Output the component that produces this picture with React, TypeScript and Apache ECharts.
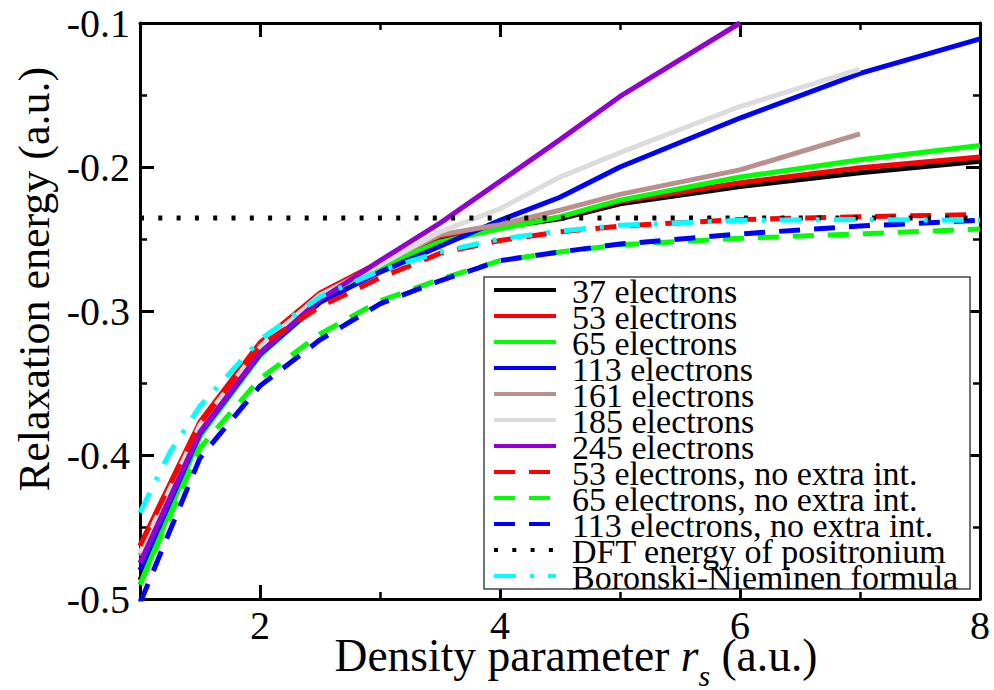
import React, { useEffect, useRef } from "react";
import * as echarts from "echarts";

// Density parameter r_s sample points
const rs = [1, 1.5, 2, 2.5, 3, 3.5, 4, 4.5, 5, 6, 7, 8];
const rsBN = [1, 1.25, 1.5, 2, 2.5, 3, 3.5, 4, 4.5, 5, 6, 7, 8];
const rsDFT = [1, 8];

// Relaxation energies (a.u.)
const e37 = [-0.487, -0.386, -0.33, -0.293, -0.269, -0.25, -0.242, -0.236, -0.2255, -0.2135, -0.204, -0.196];
const e53 = [-0.463, -0.377, -0.322, -0.2875, -0.266, -0.248, -0.241, -0.235, -0.224, -0.211, -0.2005, -0.193];
const e65 = [-0.49, -0.387, -0.331, -0.294, -0.269, -0.252, -0.243, -0.2345, -0.223, -0.207, -0.195, -0.185];
const e113 = [-0.48, -0.385, -0.33, -0.294, -0.273, -0.255, -0.237, -0.221, -0.2, -0.166, -0.135, -0.111];
const e161 = [-0.47, -0.38, -0.325, -0.289, -0.267, -0.247, -0.24, -0.23, -0.219, -0.202, -0.177];
const e185 = [-0.468, -0.379, -0.325, -0.289, -0.268, -0.245, -0.229, -0.207, -0.19, -0.158, -0.132];
const e245 = [-0.475, -0.384, -0.329, -0.292, -0.265, -0.239, -0.21, -0.181, -0.151, -0.1];
const e53nx = [-0.463, -0.378, -0.324, -0.297, -0.277, -0.26, -0.251, -0.245, -0.241, -0.2365, -0.2345, -0.233];
const e65nx = [-0.49, -0.395, -0.347, -0.316, -0.293, -0.278, -0.265, -0.259, -0.254, -0.2495, -0.2465, -0.243];
const e113nx = [-0.503, -0.402, -0.352, -0.32, -0.295, -0.279, -0.265, -0.259, -0.2535, -0.2465, -0.241, -0.237];
const eDFT = [-0.2355, -0.2355];
const eBN = [-0.44, -0.398, -0.366, -0.32, -0.29, -0.272, -0.259, -0.25, -0.2445, -0.2405, -0.237, -0.2365, -0.237];

// Axis ticks
const xMajorTicks = [2, 4, 6, 8];
const xMinorTicks = [1, 3, 5, 7];

const FONT = "Liberation Serif";
const LW = 5;

const pairs = (xs: number[], ys: number[]) => ys.map((y, i) => [xs[i], y]);

type Def = { name: string; x: number[]; y: number[]; color: string; dash: number[] | null };
const defs: Def[] = [
  { name: "37 electrons", x: rs, y: e37, color: "#000000", dash: null },
  { name: "53 electrons", x: rs, y: e53, color: "#ff0000", dash: null },
  { name: "65 electrons", x: rs, y: e65, color: "#00ff00", dash: null },
  { name: "113 electrons", x: rs, y: e113, color: "#0000ff", dash: null },
  { name: "161 electrons", x: rs, y: e161, color: "#bc8f8f", dash: null },
  { name: "185 electrons", x: rs, y: e185, color: "#dcdcdc", dash: null },
  { name: "245 electrons", x: rs, y: e245, color: "#9400d3", dash: null },
  { name: "53 electrons, no extra int.", x: rs, y: e53nx, color: "#ff0000", dash: [21, 14] },
  { name: "65 electrons, no extra int.", x: rs, y: e65nx, color: "#00ff00", dash: [21, 14] },
  { name: "113 electrons, no extra int.", x: rs, y: e113nx, color: "#0000ff", dash: [21, 14] },
  { name: "DFT energy of positronium", x: rsDFT, y: eDFT, color: "#000000", dash: [4, 14.3] },
  { name: "Boronski-Nieminen formula", x: rsBN, y: eBN, color: "#00ffff", dash: [22, 14, 4, 14] },
];

// legend box layout (pixels)
const LEG = { x: 484, y: 277, w: 486, h: 312, row: 26, lineX0: 494, lineX1: 556, textX: 572 };

export default function App() {
  const ref = useRef<HTMLDivElement>(null);
  useEffect(() => {
    if (!ref.current) return;
    const chart = echarts.init(ref.current, undefined, { renderer: "svg" });
    const xBase = {
      type: "value",
      min: 1,
      max: 8,
      splitLine: { show: false },
    };
    const yBase = {
      type: "value",
      min: -0.5,
      max: -0.1,
      interval: 0.1,
      splitLine: { show: false },
    };
    const legendEls: any[] = [
      {
        type: "rect",
        z: 50,
        shape: { x: LEG.x, y: LEG.y, width: LEG.w, height: LEG.h },
        style: { fill: "#fff", stroke: "#444", lineWidth: 1.5 },
      },
    ];
    defs.forEach((d, i) => {
      const cy = LEG.y + LEG.row / 2 + i * LEG.row;
      legendEls.push({
        type: "line",
        z: 51,
        shape: { x1: LEG.lineX0, y1: cy, x2: LEG.lineX1, y2: cy },
        style: { stroke: d.color, lineWidth: 4, lineDash: d.dash || undefined },
      });
      legendEls.push({
        type: "text",
        z: 51,
        x: LEG.textX,
        y: cy + 1,
        style: { text: d.name, fontSize: 34, fontFamily: FONT, fill: "#000", align: "left", verticalAlign: "middle" },
      });
    });
    chart.setOption({
      animation: false,
      backgroundColor: "#ffffff",
      textStyle: { fontFamily: FONT },
      grid: { left: 140, right: 14, top: 23, bottom: 91, containLabel: false },
      xAxis: [
        {
          ...xBase,
          position: "bottom",
          interval: 1,
          axisLine: { show: true, lineStyle: { color: "#000", width: 3 } },
          axisTick: { show: true, inside: true, length: 7, customValues: xMinorTicks, lineStyle: { color: "#000", width: 2.5 } },
          axisLabel: { show: true, customValues: xMajorTicks, color: "#000", fontSize: 40, fontFamily: FONT, margin: 6 },
        },
        {
          ...xBase,
          position: "bottom",
          interval: 1,
          axisLine: { show: false },
          axisTick: { show: true, inside: true, length: 14, customValues: xMajorTicks, lineStyle: { color: "#000", width: 3 } },
          axisLabel: { show: false },
        },
        {
          ...xBase,
          position: "top",
          interval: 1,
          axisLine: { show: true, lineStyle: { color: "#000", width: 3 } },
          axisTick: { show: true, inside: true, length: 7, customValues: xMinorTicks, lineStyle: { color: "#000", width: 2.5 } },
          axisLabel: { show: false },
        },
        {
          ...xBase,
          position: "top",
          interval: 1,
          axisLine: { show: false },
          axisTick: { show: true, inside: true, length: 14, customValues: xMajorTicks, lineStyle: { color: "#000", width: 3 } },
          axisLabel: { show: false },
        },
      ],
      yAxis: [
        {
          ...yBase,
          position: "left",
          axisLine: { show: true, lineStyle: { color: "#000", width: 3 } },
          axisTick: { show: true, inside: true, length: 14, lineStyle: { color: "#000", width: 3 } },
          minorTick: { show: true, splitNumber: 2, length: 7, lineStyle: { color: "#000", width: 2.5 } },
          axisLabel: {
            show: true,
            color: "#000",
            fontSize: 40,
            fontFamily: FONT,
            margin: 10,
            formatter: (v: number) => v.toFixed(1),
          },
        },
        {
          ...yBase,
          position: "right",
          axisLine: { show: true, lineStyle: { color: "#000", width: 3 } },
          axisTick: { show: true, inside: true, length: 14, lineStyle: { color: "#000", width: 3 } },
          minorTick: { show: true, splitNumber: 2, length: 7, lineStyle: { color: "#000", width: 2.5 } },
          axisLabel: { show: false },
        },
      ],
      graphic: [
        {
          type: "text",
          x: 34,
          y: 279,
          rotation: Math.PI / 2,
          style: {
            text: "Relaxation energy (a.u.)",
            fontSize: 44,
            fontFamily: FONT,
            fill: "#000",
            align: "center",
            verticalAlign: "middle",
          },
        },
        {
          type: "text",
          x: 576,
          y: 632,
          style: {
            text: "{a|Density parameter }{r|r}{s|s}{a| (a.u.)}",
            fill: "#000",
            align: "center",
            verticalAlign: "top",
            rich: {
              a: { fontSize: 45.5, fontFamily: FONT, fill: "#000", verticalAlign: "top" },
              r: { fontSize: 45.5, fontFamily: FONT, fontStyle: "italic", fill: "#000", verticalAlign: "top" },
              s: { fontSize: 30, fontFamily: FONT, fontStyle: "italic", fill: "#000", verticalAlign: "top", padding: [28, 0, 0, 0] },
            },
          },
        },
        ...legendEls,
      ],
      series: defs.map((d) => ({
        name: d.name,
        type: "line",
        xAxisIndex: 0,
        yAxisIndex: 0,
        data: pairs(d.x, d.y),
        symbol: "none",
        showSymbol: false,
        smooth: false,
        clip: true,
        lineStyle: { color: d.color, width: LW, type: d.dash || "solid" },
        itemStyle: { color: d.color },
        emphasis: { disabled: true },
      })),
    });
    return () => chart.dispose();
  }, []);
  return (
    <div
      ref={ref}
      style={{ position: "absolute", left: 0, top: 0, width: 994, height: 690 }}
    />
  );
}
